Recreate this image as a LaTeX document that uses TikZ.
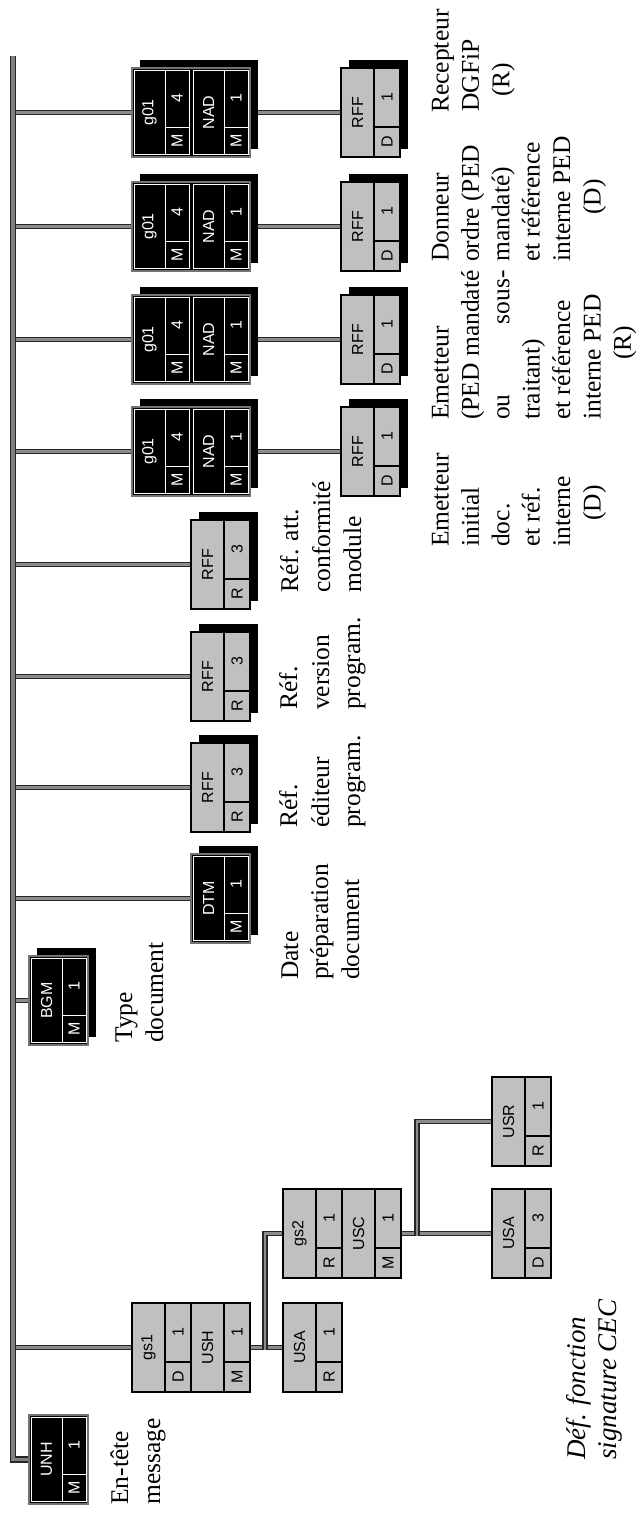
\documentclass[tikz,border=0pt]{standalone}
\usepackage{fontspec}
\setmainfont{Liberation Serif}
\newfontfamily\sansbox{Liberation Sans}
\usetikzlibrary{calc}
\definecolor{silv}{HTML}{C0C0C0}
\newcommand\lblfont{\fontsize{25.5}{30}\selectfont}
\newcommand\notefont{\fontsize{27}{30}\selectfont\itshape}
\newcommand\boxfont{\sansbox\fontsize{16}{16}\selectfont}
\pgfdeclarelayer{background}
\pgfsetlayers{background,main}
% shadow: x, ytop, width
\newcommand\shadowbox[3]{\fill[black] (#1+8,-#2+8) rectangle (#1+#3+8,-#2-81);}
% box bodies: id, x, ytop, width
\newcommand\gbox[4]{\node[gbody, minimum width=#4] (#1) at (#2,-#3) {};}
\newcommand\bbox[4]{\node[bbody, minimum width=#4] (#1) at (#2,-#3) {};}
% cells: id, x, ytop, name, status, count
\newcommand\gcell[6]{%
  \draw[gline] (#2,-#3) rectangle (#2+59,-#3-89);
  \draw[gline] (#2+33,-#3) -- (#2+33,-#3-89) (#2+33,-#3-59) -- (#2+59,-#3-59);
  \node[btxt] (#1-n) at (#2+16.5,-#3-44.5) {#4};
  \node[btxt] (#1-c) at (#2+46,-#3-29.5) {#6};
  \node[btxt] (#1-s) at (#2+46,-#3-74) {#5};}
\newcommand\bcell[6]{%
  \draw[wline] (#2+2,-#3-2.5) rectangle (#2+57,-#3-86.5);
  \draw[wline] (#2+33,-#3-2.5) -- (#2+33,-#3-86.5) (#2+33,-#3-59) -- (#2+57,-#3-59);
  \node[wtxt] (#1-n) at (#2+17.5,-#3-44.5) {#4};
  \node[wtxt] (#1-c) at (#2+45,-#3-30.5) {#6};
  \node[wtxt] (#1-s) at (#2+45,-#3-73) {#5};}
\newcommand\lab[4]{\node[lbl] (#1) at (#2,-#3) {#4};}
\begin{document}
\begin{tikzpicture}[x=1pt,y=1pt,
  conn/.style={draw=black!85, line width=1.5, double=black!45, double distance=2.8},
  busline/.style={draw=black!85, line width=1.8, double=black!50, double distance=3.2},
  gbody/.style={fill=silv, draw=black, line width=1.2, inner sep=0, outer sep=0, minimum height=89, anchor=north west},
  bbody/.style={fill=black, draw=black!55, line width=1.2, inner sep=0, outer sep=0, minimum height=89, anchor=north west},
  gline/.style={draw=black, line width=1.2},
  wline/.style={draw=white, line width=1},
  btxt/.style={font=\boxfont, rotate=90, inner sep=0, text=black},
  wtxt/.style={btxt, text=white},
  lbl/.style={font=\lblfont, rotate=90, anchor=base west, inner sep=0},
  note/.style={lbl, font=\notefont},
]
\useasboundingbox (0,0) rectangle (639,-1515);

% ---- segment groups g01 (x4) with RFF
\foreach \k/\t in {1/68,2/182,3/295,4/407}{
  \shadowbox{132}{\t}{118}
  \bbox{g\k}{132}{\t}{118}
  \bcell{g\k a}{132}{\t}{g01}{M}{4}
  \bcell{g\k b}{191}{\t}{NAD}{M}{1}
  \shadowbox{341}{\t}{59}
  \gbox{rd\k}{341}{\t}{59}
  \gcell{rd\k a}{341}{\t}{RFF}{D}{1}
}
% ---- RFF R 3
\foreach \n/\t in {att/520,ver/632,edi/743}{
  \shadowbox{191}{\t}{59}
  \gbox{r\n}{191}{\t}{59}
  \gcell{r\n a}{191}{\t}{RFF}{R}{3}
}
% ---- DTM
\shadowbox{191}{854}{59}
\bbox{dtm}{191}{854}{59}
\bcell{dtma}{191}{854}{DTM}{M}{1}
% ---- BGM
\shadowbox{29}{956}{59}
\bbox{bgm}{29}{956}{59}
\bcell{bgma}{29}{956}{BGM}{M}{1}
% ---- UNH
\bbox{unh}{29}{1415}{59}
\bcell{unha}{29}{1415}{UNH}{M}{1}
% ---- gs1 group
\gbox{gs1}{132}{1303}{118}
\gcell{gs1a}{132}{1303}{gs1}{D}{1}
\gcell{gs1b}{191}{1303}{USH}{M}{1}
\gbox{usa1}{283}{1303}{59}
\gcell{usa1a}{283}{1303}{USA}{R}{1}
% ---- gs2 group
\gbox{gs2}{283}{1189}{118}
\gcell{gs2a}{283}{1189}{gs2}{R}{1}
\gcell{gs2b}{342}{1189}{USC}{M}{1}
\gbox{usa2}{492}{1189}{59}
\gcell{usa2a}{492}{1189}{USA}{D}{3}
\gbox{usr}{492}{1077}{59}
\gcell{usra}{492}{1077}{USR}{R}{1}

% ---- connectors
\begin{pgfonlayer}{background}
\fill[white] (0,0) rectangle (639,-1515);
\coordinate (bustop) at (13,-56);
\foreach \b in {g1,g2,g3,g4,ratt,rver,redi,dtm,bgm,gs1}{
  \draw[conn] (bustop |- \b.west) -- (\b.west);
}
\foreach \k in {1,2,3,4}{\draw[conn] (g\k.east) -- (rd\k.west);}
\coordinate (j1) at ([xshift=15]gs1.east);
\draw[conn] (gs1.east) -- (usa1.west);
\draw[conn] ([yshift=-2.9]j1) |- (gs2.west);
\coordinate (j2) at ([xshift=16]gs2.east);
\draw[conn] (gs2.east) -- (usa2.west);
\draw[conn] ([yshift=-2.9]j2) |- (usr.west);
\draw[busline] (bustop) |- (unh.west);
\end{pgfonlayer}

% ---- labels
\lab{lunh1}{128}{1505}{En-tête}
\lab{lunh2}{160}{1505}{message}
\lab{lbgm1}{132}{1043}{Type}
\lab{lbgm2}{163}{1043}{document}
\lab{ldtm1}{298}{980}{Date}
\lab{ldtm2}{328}{980}{préparation}
\lab{ldtm3}{359}{980}{document}
\lab{ledi1}{297}{828}{Réf.}
\lab{ledi2}{329}{828}{éditeur}
\lab{ledi3}{360}{828}{program.}
\lab{lver1}{297}{710}{Réf.}
\lab{lver2}{329}{710}{version}
\lab{lver3}{360}{710}{program.}
\lab{latt1}{298}{593}{Réf. att.}
\lab{latt2}{330}{593}{conformité}
\lab{latt3}{361}{593}{module}
% g01 group 1
\lab{la1}{448.5}{113}{Recepteur}
\lab{la2}{478.9}{112}{DGFiP}
\lab{la3}{509.3}{97}{(R)}
% group 2
\lab{lb1}{448.5}{262}{Donneur}
\lab{lb2}{478.9}{262}{ordre (PED}
\lab{lb3}{509.3}{262}{mandaté)}
\lab{lb4}{539.7}{262}{et référence}
\lab{lb5}{570.1}{262}{interne PED}
\lab{lb6}{600.5}{215}{(D)}
% group 3
\lab{lc1}{448.5}{420}{Emetteur}
\lab{lc2}{478.9}{420}{(PED mandaté}
\lab{lc3}{509.3}{420}{ou}
\node[lbl, anchor=base east] (lc3b) at ([xshift=30.4]lc2.base east) {sous-};
\lab{lc4}{539.7}{420}{traitant)}
\lab{lc5}{570.1}{420}{et référence}
\lab{lc6}{600.5}{420}{interne PED}
\lab{lc7}{630.9}{360}{(R)}
% group 4
\lab{ld1}{448.5}{547}{Emetteur}
\lab{ld2}{478.9}{547}{initial}
\lab{ld3}{509.3}{547}{doc.}
\lab{ld4}{539.7}{547}{et réf.}
\lab{ld5}{570.1}{547}{interne}
\lab{ld6}{600.5}{521}{(D)}
% italic note
\node[note] (ldef1) at (585,-1460) {Déf. fonction};
\node[note] (ldef2) at (616,-1460) {signature CEC};
\end{tikzpicture}
\end{document}
